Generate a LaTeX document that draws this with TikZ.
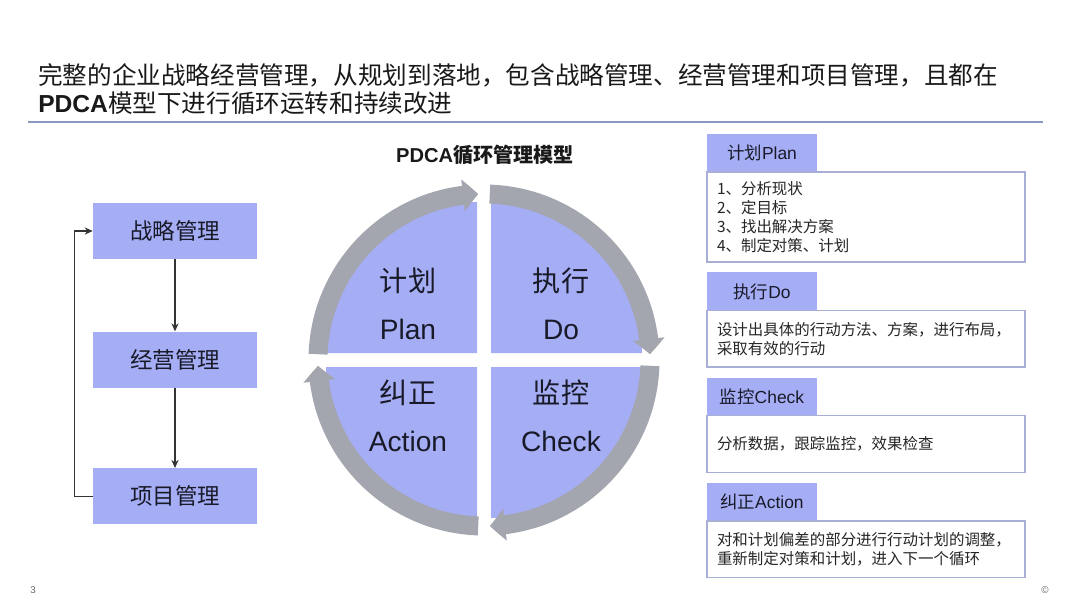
\documentclass[tikz,border=0pt]{standalone}
\usepackage{fontspec}
\setmainfont{Liberation Sans}
\newfontfamily\cjk{Noto Sans CJK SC}
\usetikzlibrary{arrows.meta,bending,positioning}
\definecolor{pdcablue}{RGB}{165,173,245}
\definecolor{ringgray}{RGB}{164,166,175}
\definecolor{rulecolor}{RGB}{140,152,196}
\definecolor{panelline}{RGB}{168,174,214}
\definecolor{inkdark}{RGB}{24,26,40}
\tikzset{
  mgmt/.style={
    fill=pdcablue,
    minimum width=4.1cm,
    minimum height=1.4cm,
    inner sep=0pt,
    text=inkdark,
    font=\cjk\fontsize{16}{18}\selectfont
  },
  quadtext/.style={
    align=center,
    text=inkdark,
    font=\fontsize{20}{34}\selectfont
  },
  tabbox/.style={
    fill=pdcablue,
    minimum width=2.75cm,
    minimum height=0.95cm,
    inner sep=0pt,
    outer sep=0pt,
    text=inkdark,
    font=\fontsize{12.4}{14}\selectfont
  },
  panel/.style={
    draw=panelline,
    line width=1.1pt,
    fill=white,
    text width=7.45cm,
    inner xsep=0.25cm,
    inner ysep=0pt,
    outer sep=0pt,
    minimum height=1.42cm,
    align=left,
    text=black!85,
    font=\cjk\fontsize{11}{13.5}\selectfont
  },
  ring/.style={
    ringgray,
    line width=0.475cm,
    -{Triangle[length=0.38cm,width=0.78cm,bend]}
  },
  arrow/.style={
    -{Stealth[length=2mm,width=1.8mm]},
    line width=0.8pt,
    black!80
  }
}

\begin{document}
\begin{tikzpicture}[x=0.025cm,y=-0.025cm]
\useasboundingbox (0,0) rectangle (1080,608);

% heading
\node[anchor=north west,align=left,inner sep=0pt,text=black!90,
  font=\fontsize{17.5}{19.8}\selectfont] (title) at (38,63)
  {{\cjk 完整的企业战略经营管理，从规划到落地，包含战略管理、经营管理和项目管理，且都在}\\
   \textbf{PDCA}{\cjk 模型下进行循环运转和持续改进}};
\draw[rulecolor,line width=1.6pt] (28,122) -- (1043,122);

% left chain
\node[mgmt] (zl) at (175,231) {战略管理};
\node[mgmt,below=1.8cm of zl] (jy) {经营管理};
\node[mgmt,below=2cm of jy] (xm) {项目管理};
\draw[arrow] (zl) -- (jy);
\draw[arrow] (jy) -- (xm);
\draw[arrow] (xm.west) -- ++(-18,0) |- (zl.west);

% PDCA circle
\node[font=\bfseries\fontsize{14.3}{16}\selectfont,text=black!90] (pdca) at (485,155)
  {PDCA{\cjk 循环管理模型}};
\begin{scope}[shift={(484,360)},y=0.025cm]
  \foreach \a in {0,90,180,270}
    \fill[pdcablue,rotate=\a] (7,7) -- ++(151,0)
      arc[start angle=0,end angle=90,radius=151] -- cycle;
  \foreach \a in {0,90,180,270}
    \draw[ring,rotate=\a] (88:166) arc[start angle=88,end angle=2,radius=166];
\end{scope}
\node[quadtext] (plan) at (408,304) {{\cjk 计划}\\Plan};
\node[quadtext] (do) at (561,304) {{\cjk 执行}\\Do};
\node[quadtext] (action) at (408,416) {{\cjk 纠正}\\Action};
\node[quadtext] (check) at (561,416) {{\cjk 监控}\\Check};

% right panels
\node[tabbox,anchor=north west] (plantab) at (707,134) {{\cjk 计划}Plan};
\node[panel,minimum height=2.25cm,below right=0cm and 0cm of plantab.south west] (planbox)
  {1、分析现状\\2、定目标\\3、找出解决方案\\4、制定对策、计划};
\node[tabbox,below right=0.26cm and 0cm of planbox.south west] (dotab) {{\cjk 执行}Do};
\node[panel,below right=0cm and 0cm of dotab.south west] (dobox)
  {设计出具体的行动方法、方案，进行布局，\\采取有效的行动};
\node[tabbox,below right=0.26cm and 0cm of dobox.south west] (checktab) {{\cjk 监控}Check};
\node[panel,below right=0cm and 0cm of checktab.south west] (checkbox)
  {分析数据，跟踪监控，效果检查};
\node[tabbox,below right=0.26cm and 0cm of checkbox.south west] (actiontab) {{\cjk 纠正}Action};
\node[panel,below right=0cm and 0cm of actiontab.south west] (actionbox)
  {对和计划偏差的部分进行行动计划的调整，\\重新制定对策和计划，进入下一个循环};

% page marks
\node[text=black!60,font=\fontsize{7}{8}\selectfont] (pagenum) at (33,590) {3};
\node[text=black!60,font=\fontsize{7}{8}\selectfont] (copymark) at (1045,590) {©};
\end{tikzpicture}
\end{document}
